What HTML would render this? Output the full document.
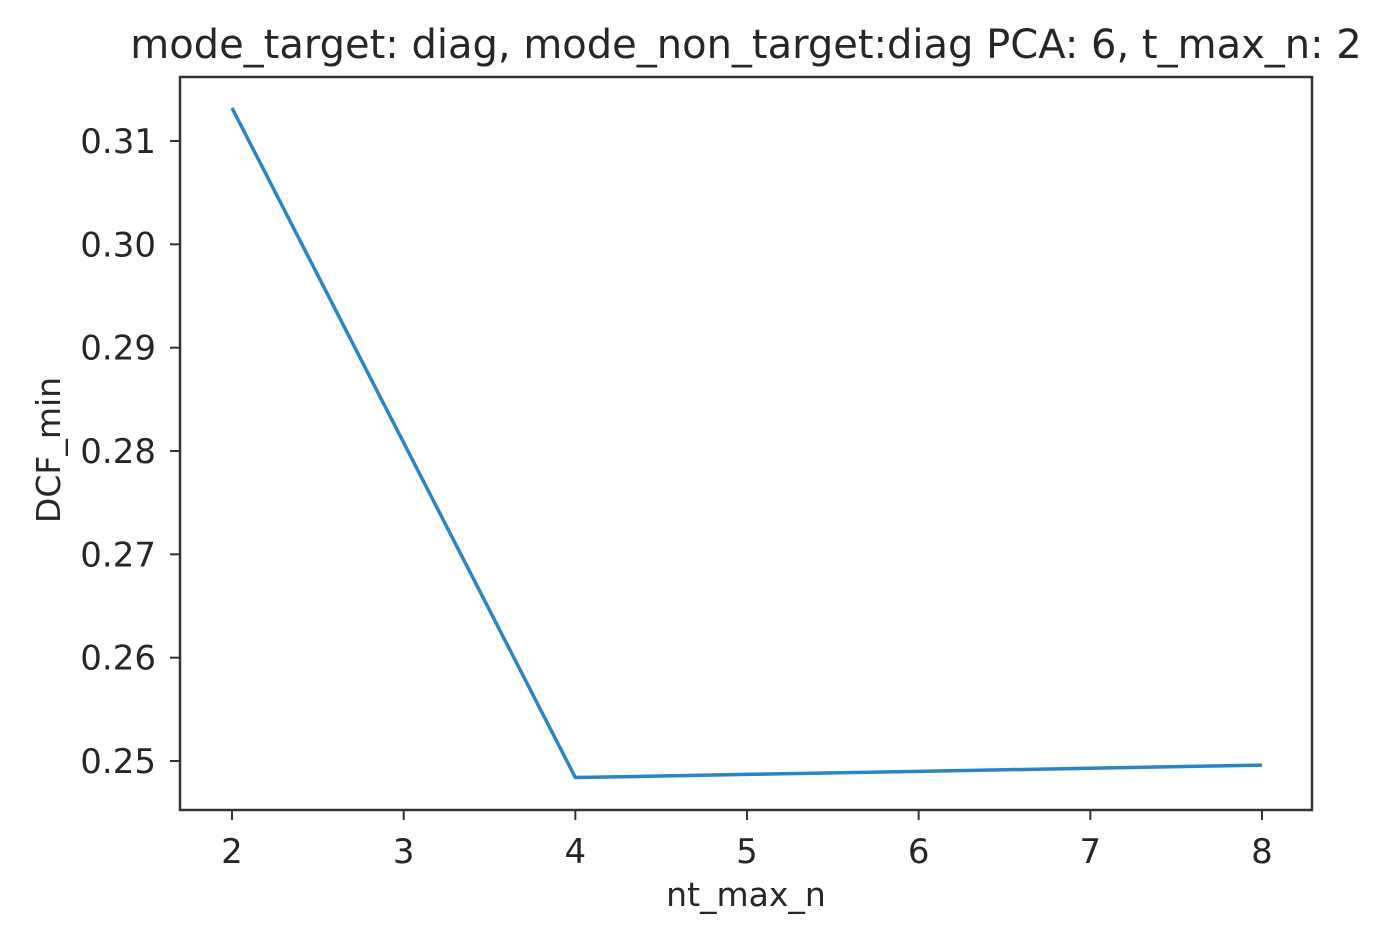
<!DOCTYPE html>
<html><head><meta charset="utf-8"><style>
html,body{margin:0;padding:0;background:#fff;}
svg text{font-family:"DejaVu Sans","Liberation Sans",sans-serif;fill:#262626;}
</style></head><body>
<svg width="1398" height="938" viewBox="0 0 1398 938" xmlns="http://www.w3.org/2000/svg">
<g id="chart"></g>
</svg>
<script>
const xCategories = [2, 3, 4, 5, 6, 7, 8];
const dcfValues = [0.3132, 0.2808, 0.2484, 0.2487, 0.2490, 0.2493, 0.2496];
const xTicks = [2, 3, 4, 5, 6, 7, 8];
const yTicks = [0.25, 0.26, 0.27, 0.28, 0.29, 0.30, 0.31];
const yTickLabels = ["0.25", "0.26", "0.27", "0.28", "0.29", "0.30", "0.31"];

const L = 180, R = 1312, T = 77, B = 810;
const xScale = v => 232 + (v - 2) * (1030 / 6);
const yScale = v => 761 - (v - 0.25) * (620 / 0.06);
const NS = "http://www.w3.org/2000/svg";
const g = document.getElementById("chart");
function mk(tag, attrs, text) {
  const e = document.createElementNS(NS, tag);
  for (const k in attrs) e.setAttribute(k, attrs[k]);
  if (text !== undefined) e.textContent = text;
  g.appendChild(e);
  return e;
}

const pts = xCategories.map((x, i) => xScale(x) + "," + yScale(dcfValues[i])).join(" ");
const line = mk("polyline", {points: pts, fill: "none", stroke: "#2b84c4", "stroke-width": 3.5, "stroke-linejoin": "round"});



const frame = mk("rect", {x: L, y: T, width: R - L, height: B - T, fill: "none", stroke: "#333", "stroke-width": 2.5});



xTicks.forEach(t => {
  const x = xScale(t);
  const tk = mk("line", {x1: x, y1: B, x2: x, y2: B + 10, stroke: "#333", "stroke-width": 2});
  
  
  const lb = mk("text", {x: x, y: B + 53, "text-anchor": "middle", "font-size": 34}, String(t));
  
  
});
yTicks.forEach((t, i) => {
  const y = yScale(t);
  const tk = mk("line", {x1: L - 10, y1: y, x2: L, y2: y, stroke: "#333", "stroke-width": 2});
  
  
  const lb = mk("text", {x: L - 24, y: y + 12, "text-anchor": "end", "font-size": 34}, yTickLabels[i]);
  
  
});

const title = mk("text", {x: 746, y: 58, "text-anchor": "middle", "font-size": 40}, "mode_target: diag, mode_non_target:diag PCA: 6, t_max_n: 2");


const xt = mk("text", {x: 746, y: 906, "text-anchor": "middle", "font-size": 33}, "nt_max_n");


const yt = mk("text", {x: 60, y: 450, "text-anchor": "middle", "font-size": 33, transform: "rotate(-90 60 450)"}, "DCF_min");


</script>
</body></html>
